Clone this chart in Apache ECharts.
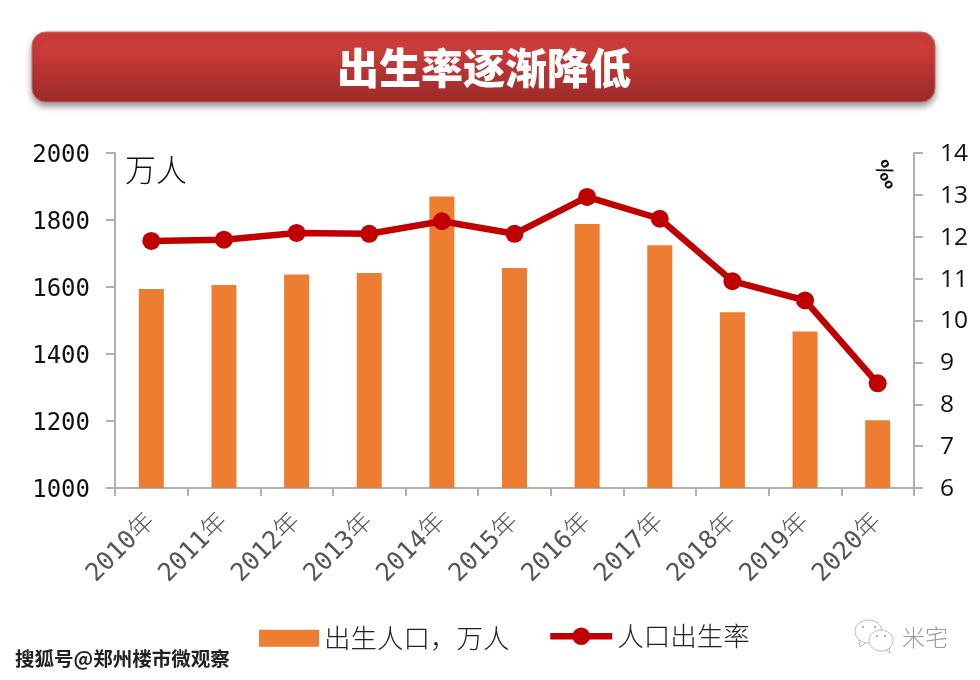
<!DOCTYPE html>
<html><head><meta charset="utf-8">
<style>html,body{margin:0;padding:0;background:#fff}#c{width:980px;height:680px}</style>
<script src="https://cdn.jsdelivr.net/npm/echarts@6/dist/echarts.min.js"></script>
</head><body><div id="c"></div>
<script>
const titleText = '出生率逐渐降低';
const categories = ['2010年','2011年','2012年','2013年','2014年','2015年','2016年','2017年','2018年','2019年','2020年'];
const births = [1594,1606,1637,1642,1870,1657,1788,1725,1525,1467,1202];
const rates = [11.90,11.93,12.09,12.07,12.37,12.07,12.95,12.43,10.94,10.48,8.50];
const barName = '出生人口\uFF0C万人';
const lineName = '人口出生率';
const leftUnit = '万人';
const rightUnit = '‰';
const watermark = '搜狐号@郑州楼市微观察';
const brand = '米宅';
const cjk = '"Noto Sans CJK SC"';
const mono = '"DejaVu Sans Mono","Noto Sans CJK SC"';
const legendText = {fontFamily:cjk,fontSize:26.5,color:'#222',fontWeight:300};
const axisGrey = '#b0b0b0';
const iconGrey = '#bbb';
const chart = echarts.init(document.getElementById('c'), null, {renderer:'canvas'});
chart.setOption({
  animation:false,
  backgroundColor:'#fff',
  grid:{left:115,right:66,top:153,bottom:192,containLabel:false},
  legend:[
    {top:625,left:259,itemGap:0,itemWidth:60,itemHeight:17,padding:0,
     data:[{name:barName,icon:'rect'}],textStyle:legendText},
    {top:623,left:547,itemGap:0,itemWidth:62,itemHeight:22,padding:0,
     data:[{name:lineName}],lineStyle:{width:6.5},textStyle:legendText}
  ],
  xAxis:{type:'category',data:categories,
    axisLine:{lineStyle:{color:axisGrey,width:2}},
    axisTick:{show:true,length:8,lineStyle:{color:axisGrey,width:2}},
    axisLabel:{rotate:45,interval:0,margin:30,fontFamily:mono,fontSize:25,color:'#555',fontWeight:300}
  },
  yAxis:[{type:'value',min:1000,max:2000,interval:200,
      axisLine:{show:true,lineStyle:{color:axisGrey,width:2}},
      axisTick:{show:true,length:9,lineStyle:{color:axisGrey,width:2}},
      splitLine:{show:false},
      axisLabel:{margin:25,formatter:v=>'{a|'+v+'}',
        rich:{a:{padding:[5,0,0,0],fontFamily:'"DejaVu Sans Mono"',fontSize:24,color:'#111'}}}},
    {type:'value',min:6,max:14,interval:1,position:'right',
      axisLine:{show:true,lineStyle:{color:axisGrey,width:2}},
      axisTick:{show:true,length:9,lineStyle:{color:axisGrey,width:2}},
      splitLine:{show:false},
      axisLabel:{margin:26,formatter:v=>'{a|'+v+'}',
        rich:{a:{padding:[2,0,0,0],fontFamily:'"Open Sans"',fontSize:24.5,color:'#111'}}}}],
  series:[
    {name:barName,type:'bar',data:births,barWidth:25,itemStyle:{color:'#ed7d31'}},
    {name:lineName,type:'line',yAxisIndex:1,data:rates,smooth:false,symbol:'circle',symbolSize:18,
      lineStyle:{color:'#c00000',width:6.5},itemStyle:{color:'#c00000'}}
  ],
  graphic:[
    {type:'rect',z:10,shape:{x:32,y:32,width:903,height:70,r:14},
      style:{fill:new echarts.graphic.LinearGradient(0,0,0,1,[{offset:0,color:'#cf3f3b'},{offset:0.3,color:'#c83b38'},{offset:1,color:'#9a2a28'}]),
      stroke:'#c96a68',lineWidth:1,shadowColor:'rgba(0,0,0,0.4)',shadowBlur:6,shadowOffsetY:4}},
    {type:'text',z:11,x:484,y:68,style:{text:titleText,fill:'#fff',font:'900 42px "Noto Sans CJK SC"',align:'center',verticalAlign:'middle'}},
    {type:'text',z:11,x:125,y:169,style:{text:leftUnit,fill:'#111',font:'300 31px "Noto Sans CJK SC"',align:'left',verticalAlign:'middle'}},
    {type:'text',z:11,x:885,y:175,rotation:-Math.PI/3,style:{text:rightUnit,fill:'#111',font:'bold 20px "DejaVu Sans"',align:'center',verticalAlign:'middle'}},
    {type:'text',z:11,x:15,y:659,style:{text:watermark,fill:'#222',stroke:'#fff',lineWidth:2,font:'bold 19.5px "Noto Sans CJK SC"',align:'left',verticalAlign:'middle'}},
    {type:'text',z:11,x:902,y:637,style:{text:brand,fill:'#999',font:'300 23px "Noto Sans CJK SC"',align:'left',verticalAlign:'middle'}},
    {type:'polygon',z:11,shape:{points:[[859,640],[860,647],[867,642]]},style:{fill:'#fff',stroke:iconGrey,lineWidth:1}},
    {type:'ellipse',z:11,shape:{cx:868.5,cy:631.5,rx:13.5,ry:11.5},style:{fill:'#fff',stroke:iconGrey,lineWidth:1}},
    {type:'polygon',z:12,shape:{points:[[884,649],[890,653],[889,646]]},style:{fill:'#fff',stroke:iconGrey,lineWidth:1}},
    {type:'ellipse',z:12,shape:{cx:881,cy:640.5,rx:12,ry:10.5},style:{fill:'#fff',stroke:iconGrey,lineWidth:1}},
    {type:'circle',z:12,shape:{cx:863,cy:627,r:1},style:{fill:'#999'}},
    {type:'circle',z:12,shape:{cx:875,cy:627,r:1},style:{fill:'#999'}},
    {type:'circle',z:13,shape:{cx:877,cy:636,r:1},style:{fill:'#999'}},
    {type:'circle',z:13,shape:{cx:885,cy:636,r:1},style:{fill:'#999'}}
  ]
});
</script></body></html>
